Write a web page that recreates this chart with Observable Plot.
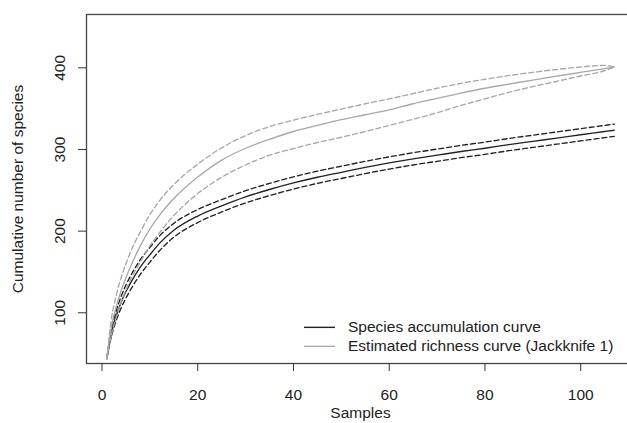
<!DOCTYPE html>
<html><head><meta charset="utf-8">
<script src="https://cdn.jsdelivr.net/npm/d3@7"></script>
<script src="https://cdn.jsdelivr.net/npm/@observablehq/plot@0.6"></script>
<style>
html,body{margin:0;padding:0;background:#fff;overflow:hidden;width:627px;height:423px;}
#wrap{position:relative;width:640px;height:423px;}
#legend{position:absolute;left:304px;top:318px;font:15.5px "Liberation Sans",Arial,sans-serif;color:#222;}
.row{display:flex;align-items:center;height:18.7px;line-height:18.7px;white-space:nowrap;}
.row svg{margin-right:13px;}
</style></head><body><div id="wrap"><div id="chart"></div><div id="legend"></div></div>
<script>
const samples = [1,2,3,4,5,6,8,10,12,15,20,25,30,35,40,45,50,55,60,65,70,75,80,85,90,95,100,105,107];
const accMean  = [44,76,97,113,126,137,156,171,185,201,218.5,231,242,251,259,266,272,278,283.5,288.5,293,297.5,301.5,306,310,314,318,322,323.6];
const accUpper = [44,80,103,120,134,145.5,165,180,194,209.5,226.5,238.5,249.5,258.5,266.5,273.5,279.5,285.5,291,296,300.5,305,309,313.5,317.5,321.5,325.5,329.5,331.1];
const accLower = [44,72,91,106,118,128.5,147,162,176,192.5,210.5,223.5,234.5,243.5,251.5,258.5,264.5,270.5,276,281,285.5,290,294,298.5,302.5,306.5,310.5,314.5,316.1];
const jackMean  = [44,84,108,127,143,157,182,202.6,219.4,240,266.4,287,301.5,312.5,322,329.5,336.5,342.5,348.5,356,362.5,369,375,380,385,389.8,394.5,399,401];
const jackUpper = [44,94,122,143,160,175,199,220,237,257,282,302,317,328,336,343,349.5,356,362,368.5,375,381,386,390.5,394.5,398,401,403,401];
const jackLower = [44,74,95,113,128,141,162,182,198,219,246,266,281,293,301,308.5,315,322,329.5,337,345,354,362,370,377,383.5,390,396.5,401];
const xTicks = [0,20,40,60,80,100];
const yTicks = [100,200,300,400];
const legendLabels = ["Species accumulation curve","Estimated richness curve (Jackknife 1)"];
const xLabel = "Samples";
const yLabel = "Cumulative number of species";

const BLACK = "#222", GRAY = "#a8a8a8";
const series = [
  {values: accUpper, color: BLACK, dash: "5,3"},
  {values: accLower, color: BLACK, dash: "5,3"},
  {values: accMean,  color: BLACK, dash: null},
  {values: jackUpper, color: GRAY, dash: "5,3"},
  {values: jackLower, color: GRAY, dash: "5,3"},
  {values: jackMean,  color: GRAY, dash: null}
];
const lineMarks = series.map(s => Plot.line(samples.map((x,i)=>({x, y: s.values[i]})), {
  x: "x", y: "y", stroke: s.color, strokeWidth: 1.35, strokeDasharray: s.dash || undefined, curve: "monotone-x"
}));

const chart = Plot.plot({
  width: 640, height: 423,
  marginLeft: 86, marginRight: 6, marginTop: 14, marginBottom: 60,
  style: {fontFamily: "'Liberation Sans', Arial, sans-serif", fontSize: "15.5px", color: "#222", background: "#fff"},
  x: {domain: [-3.24, 111.24]},
  y: {domain: [37.9, 465.3]},
  marks: [
    ...lineMarks,
    Plot.frame({stroke: "#444", strokeWidth: 1.3}),
    Plot.axisX({ticks: xTicks, tickSize: 8, tickPadding: 17, label: null, stroke: "#333"}),
    Plot.axisY({ticks: yTicks, tickSize: 8, fill: "none", label: null, stroke: "#333"}),
    Plot.text(yTicks, {y: d => d, frameAnchor: "left", dx: -26, rotate: -90, text: d => String(d), textAnchor: "middle", lineAnchor: "middle", fill: "#222"}),
    Plot.text([xLabel], {frameAnchor: "bottom", dy: 50, text: d => d, textAnchor: "middle", lineAnchor: "middle", fill: "#222"}),
    Plot.text([yLabel], {frameAnchor: "left", dx: -68, rotate: -90, text: d => d, textAnchor: "middle", lineAnchor: "middle", fill: "#222"})
  ]
});
document.getElementById("chart").appendChild(chart);

const legend = document.getElementById("legend");
[[legendLabels[0], BLACK],[legendLabels[1], GRAY]].forEach(([t,c]) => {
  const row = document.createElement("div");
  row.className = "row";
  row.innerHTML = `<svg width="31" height="18.7"><line x1="0" x2="31" y1="9.35" y2="9.35" stroke="${c}" stroke-width="1.4"/></svg><span>${t}</span>`;
  legend.appendChild(row);
});
</script></body></html>
